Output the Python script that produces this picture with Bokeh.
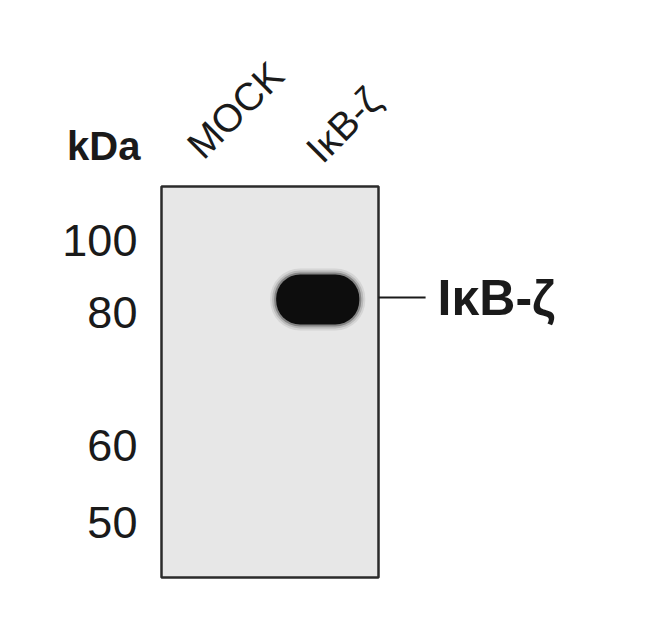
from bokeh.plotting import figure
from bokeh.models import Range1d
from bokeh.core.properties import value
from bokeh.embed import file_html
from bokeh.resources import INLINE

# ---- data ----
lanes = ["MOCK", "IκB-ζ"]
lane_pos = [0.150, 0.698]               # lane label anchors (fraction of blot width)
lane_lab_y = [-35, -31]                 # lane label anchors above blot
marker_kda = ["100", "80", "60", "50"]  # marker labels
marker_mig = [53.5, 126, 259, 336]      # migration distance from blot top (px units)
band_lane = [0.72]                      # band lane centre
band_mig = [113]                        # band migration
band_label = ["IκB-ζ"]
blot_len = 391                          # blot length (px units)

FONT = "Liberation Sans"
INK = "#1a1a1a"

# whole canvas expressed in blot coordinates (x: fraction of blot width, y: migration)
W, H = 634, 627
BX, BY, BW = 161, 186, 217
p = figure(width=W, height=H, output_backend="svg", toolbar_location=None,
           x_range=Range1d(-BX / BW, (W - BX) / BW), y_range=Range1d(H - BY, -BY),
           min_border=0)
p.axis.visible = False
p.grid.visible = False
p.outline_line_color = None
p.background_fill_color = "white"
p.border_fill_color = "white"

# blot membrane
p.quad(left=[0], right=[1], top=[0], bottom=[blot_len], fill_color="#e7e7e7",
       line_color="#2b2b2b", line_width=2.5)

# band with soft edges
for grow, alpha in [(6, 0.08), (4, 0.15), (2, 0.3)]:
    p.vbar(x=band_lane, width=0.383 + grow * 2 / BW,
           top=[m - 25 - grow for m in band_mig], bottom=[m + 25 + grow for m in band_mig],
           fill_color="#111111", fill_alpha=alpha, line_color=None,
           border_radius=24 + grow)
p.vbar(x=band_lane, width=0.383, top=[m - 25 for m in band_mig],
       bottom=[m + 25 for m in band_mig], fill_color="#0d0d0d",
       line_color=None, border_radius=24)

# marker ladder labels
p.text(x=[-0.111] * len(marker_kda), y=marker_mig, text=marker_kda,
       text_align="right", text_baseline="middle", text_font=value(FONT),
       text_font_size="45px", text_color=INK)

# kDa header
p.text(x=[-0.097], y=[-41], text=["kDa"], text_align="right",
       text_baseline="middle", text_font=value(FONT), text_font_style="bold",
       text_font_size="40px", text_color=INK)

# lane labels (rotated)
p.text(x=lane_pos, y=lane_lab_y, text=lanes, angle=45, angle_units="deg",
       text_align="left", text_baseline="middle", text_font=value(FONT),
       text_font_size="39px", text_color=INK)

# marker line and band name
p.segment(x0=[1.0], y0=[m - 2 for m in band_mig], x1=[1.217], y1=[m - 2 for m in band_mig],
          line_color=INK, line_width=2)
p.text(x=[1.272], y=[m - 2 for m in band_mig], text=band_label, text_align="left",
       text_baseline="middle", text_font=value(FONT), text_font_style="bold",
       text_font_size="50px", text_color=INK)

open("out.html", "w").write(file_html(p, INLINE))
